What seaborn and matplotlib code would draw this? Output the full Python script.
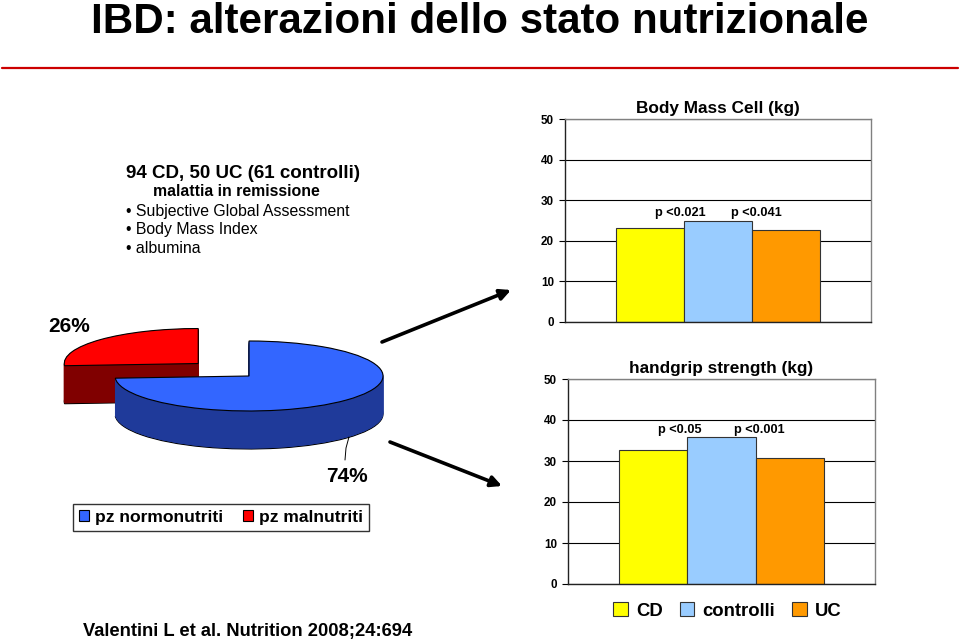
import matplotlib
matplotlib.use("Agg")
import matplotlib.pyplot as plt
from matplotlib.lines import Line2D
import seaborn as sns
import pandas as pd

# --- data ---
groups = ["CD", "controlli", "UC"]
bmc_values = [23.2, 25.0, 22.7]          # Body Mass Cell (kg)
handgrip_values = [32.7, 35.9, 30.8]     # handgrip strength (kg)
bmc_pvalues = ["p <0.021", "p <0.041"]
handgrip_pvalues = ["p <0.05", "p <0.001"]
bar_colors = ["#FFFF00", "#99CCFF", "#FF9900"]

pie_labels = ["pz normonutriti", "pz malnutriti"]
pie_share = [74, 26]
pie_top = ["#3366FF", "#FF0000"]
pie_side = ["#1F3A9A", "#800000"]

info_lines = ["94 CD, 50 UC (61 controlli)", "malattia in remissione",
              "\u2022 Subjective Global Assessment", "\u2022 Body Mass Index", "\u2022 albumina"]

sns.set_theme(style="white")
plt.rcParams["font.family"] = ["Liberation Sans", "DejaVu Sans"]
plt.rcParams.update({"text.color": "black", "axes.labelcolor": "black",
                     "xtick.color": "black", "ytick.color": "black",
                     "axes.titlecolor": "black"})

fig = plt.figure(figsize=(9.59, 6.40), dpi=100)
fig.patch.set_facecolor("white")

# --- title + red rule ---
fig.text(0.5005, 1 - 33 / 640, "IBD: alterazioni dello stato nutrizionale",
         ha="center", va="baseline", fontsize=30.3, fontweight="bold", color="black")
fig.add_artist(Line2D([2 / 959, 958 / 959], [1 - 68 / 640] * 2, transform=fig.transFigure,
                      color="#CC0000", lw=1.6))

# --- info text block ---
fig.text(126 / 959, 1 - 178 / 640, info_lines[0], fontsize=13.5, fontweight="bold", va="baseline")
fig.text(153 / 959, 1 - 196 / 640, info_lines[1], fontsize=11.4, fontweight="bold", va="baseline")
for txt, base in zip(info_lines[2:], [216, 234, 253]):
    fig.text(126 / 959, 1 - base / 640, txt, fontsize=11.4, va="baseline")


# --- bar charts ---
def bar_panel(rect, values, title, plabels, ppos, py):
    ax = fig.add_axes(rect)
    df = pd.DataFrame({"gruppo": groups, "valore": values})
    sns.barplot(data=df, x="gruppo", y="valore", hue="gruppo", palette=bar_colors,
                saturation=1, width=1.0, edgecolor="#333333", linewidth=0.8,
                ax=ax, legend=True)
    ax.set_xlim(-1.25, 3.25)
    ax.set_ylim(0, 50)
    ax.set_yticks(range(0, 51, 10))
    ax.set_xticks([])
    ax.set_xlabel("")
    ax.set_ylabel("")
    ax.set_axisbelow(True)
    ax.yaxis.grid(True, color="black", lw=0.8)
    for s in ["left", "bottom"]:
        ax.spines[s].set_color("#222222")
        ax.spines[s].set_linewidth(1.0)
    for s in ["top", "right"]:
        ax.spines[s].set_visible(True)
        ax.spines[s].set_color("#808080")
        ax.spines[s].set_linewidth(1.0)
    ax.tick_params(axis="y", left=True, length=4, width=0.8, pad=4, labelsize=8.4, colors="black")
    for lbl in ax.get_yticklabels():
        lbl.set_fontweight("bold")
    ax.set_title(title, fontsize=12.4, fontweight="bold", pad=4)
    for lab, x in zip(plabels, ppos):
        ax.text(x, py, lab, ha="center", va="baseline", fontsize=9.2, fontweight="bold")
    return ax


ax_bmc = bar_panel([565 / 959, 1 - 322 / 640, 306 / 959, 203 / 640], bmc_values,
                   "Body Mass Cell (kg)", bmc_pvalues, [0.44, 1.57], 26.1)
ax_bmc.get_legend().remove()
ax_hg = bar_panel([568 / 959, 1 - 584 / 640, 307 / 959, 205 / 640], handgrip_values,
                  "handgrip strength (kg)", handgrip_pvalues, [0.39, 1.55], 36.8)
handles, labels = ax_hg.get_legend_handles_labels()
ax_hg.get_legend().remove()
fig.legend(handles, labels, loc="center", bbox_to_anchor=(0.7586, 0.0453), ncol=3,
           frameon=False, prop={"size": 13.3, "weight": "bold"},
           handlelength=0.8, handleheight=0.8, handletextpad=0.45, columnspacing=0.9)

# --- 3D-looking exploded pie ---
pie_ax = fig.add_axes([40 / 959, 1 - 470 / 640, 380 / 959, 170 / 640])
depth = 1.086
n_layers = 45
pie_explode = [0, 0.52]
legend_wedges = [None, None]
for k in [1, 0]:  # red slice behind, blue slice in front
    for i in range(n_layers + 1):
        d = depth * (1 - i / n_layers)
        top = i == n_layers
        if top:
            fc, ec, lw = pie_top[k], "black", 0.8
        elif i == 0:
            fc, ec, lw = pie_side[k], "black", 0.8
        else:
            fc, ec, lw = pie_side[k], pie_side[k], 0.6
        wedges, _ = pie_ax.pie(pie_share, startangle=90, counterclock=False,
                               explode=pie_explode, center=(0, -d),
                               colors=[fc, fc], wedgeprops={"edgecolor": ec, "linewidth": lw})
        wedges[1 - k].set_visible(False)
        if top:
            legend_wedges[k] = wedges[k]
pie_ax.set_aspect("auto")
pie_ax.set_xlim(-1.560, 1.276)
pie_ax.set_ylim(-2.686, 2.171)
pie_ax.axis("off")

fig.text(48 / 959, 1 - 332 / 640, f"{pie_share[1]}%", fontsize=15, fontweight="bold", va="baseline")
fig.text(326 / 959, 1 - 482 / 640, f"{pie_share[0]}%", fontsize=15, fontweight="bold", va="baseline")
fig.add_artist(Line2D([349 / 959, 346 / 959, 345 / 959], [1 - 437 / 640, 1 - 448 / 640, 1 - 460 / 640],
                      transform=fig.transFigure, color="black", lw=0.7))

fig.legend(legend_wedges, pie_labels, loc="center", bbox_to_anchor=(0.2305, 0.1914), ncol=2,
           frameon=True, fancybox=False, edgecolor="#333333", framealpha=1,
           prop={"size": 12.6, "weight": "bold"}, handlelength=0.6, handleheight=0.6,
           handletextpad=0.35, columnspacing=1.1, borderpad=0.35)

# --- arrows from pie to bar charts ---
for start, end in [((382, 298), (511, 350)), ((390, 198), (502, 154))]:
    fig.add_artist(plt.Annotation("", xy=end, xytext=start, xycoords="figure pixels",
                                  textcoords="figure pixels",
                                  arrowprops=dict(arrowstyle="-|>", lw=2.6, color="black",
                                                  mutation_scale=16, shrinkA=0, shrinkB=0)))

# --- citation ---
fig.text(83 / 959, 1 - 636 / 640, "Valentini L et al. Nutrition 2008;24:694",
         fontsize=13.2, fontweight="bold", va="baseline")

fig.savefig("out.png", dpi=100, facecolor="white")
